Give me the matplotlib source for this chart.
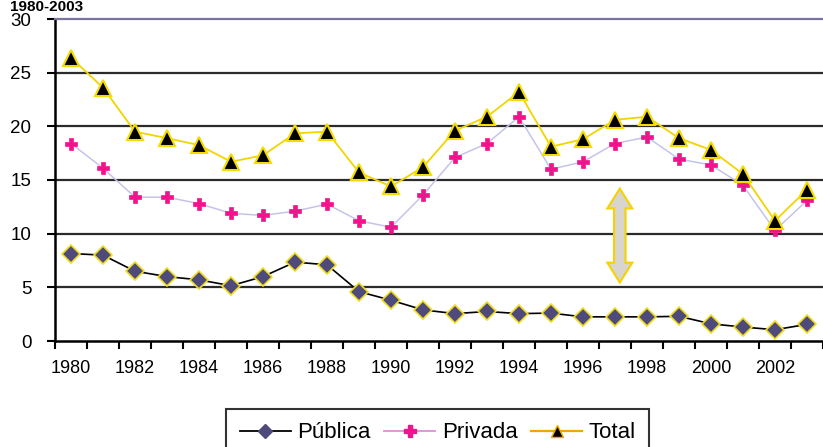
import numpy as np
import matplotlib
matplotlib.use("Agg")
import matplotlib.pyplot as plt
from matplotlib.lines import Line2D
from matplotlib.patches import Polygon

plt.rcParams['font.family'] = ['Liberation Sans', 'DejaVu Sans']

years = list(range(1980, 2004))
publica = [8.15, 8.0, 6.5, 6.0, 5.7, 5.15, 6.0, 7.35, 7.1, 4.6, 3.8,
           2.9, 2.55, 2.75, 2.55, 2.6, 2.25, 2.25, 2.25, 2.3, 1.6, 1.3, 1.05, 1.55]
privada = [18.4, 16.1, 13.4, 13.4, 12.8, 11.9, 11.7, 12.1, 12.75, 11.2, 10.6,
           13.6, 17.1, 18.4, 20.9, 16.0, 16.7, 18.4, 19.0, 16.95, 16.4, 14.5, 10.3, 13.1]
total = [26.4, 23.6, 19.5, 18.9, 18.25, 16.7, 17.3, 19.35, 19.5, 15.7, 14.4,
         16.2, 19.6, 20.9, 23.2, 18.1, 18.8, 20.6, 20.9, 18.9, 17.8, 15.55, 11.2, 14.1]
yticks = [0, 5, 10, 15, 20, 25, 30]
series_names = ['Pública', 'Privada', 'Total']
title = '1980-2003'

fig = plt.figure(figsize=(8.23, 4.47), dpi=100)
ax = fig.add_axes([55/823, 1-341/447, 768/823, (341-19)/447])

x = np.arange(len(years))

# grid lines
for v in yticks[1:-1]:
    ax.axhline(v, color='#2b2b2b', lw=1.6, zorder=1)

ax.plot(x, publica, color='black', lw=1.2, marker='D', ms=9,
        mfc='#4e4a7c', mec='#f0dc20', mew=1.2, zorder=3)
ax.plot(x, privada, color='#c4c4ea', lw=1.1, marker='P', ms=9,
        mfc='#f0148c', mec='#f0148c', mew=0.5, zorder=3)
ax.plot(x, total, color='#f2d400', lw=1.3, marker='^', ms=11,
        mfc='black', mec='#f5dc00', mew=1.5, zorder=4)

# double arrow annotation
ax_c = 17.15
top, bot = 14.2, 5.45
hl = 1.85
hw, sw = 0.39, 0.18
arrow = Polygon([(ax_c, top), (ax_c + hw, top - hl), (ax_c + sw, top - hl),
                 (ax_c + sw, bot + hl), (ax_c + hw, bot + hl), (ax_c, bot),
                 (ax_c - hw, bot + hl), (ax_c - sw, bot + hl), (ax_c - sw, top - hl),
                 (ax_c - hw, top - hl)], closed=True,
                facecolor='#d8d4ce', edgecolor='#f5d200', lw=1.5, zorder=5)
ax.add_patch(arrow)

ax.set_xlim(-0.5, len(years) - 0.5)
ax.set_ylim(0, 30)
ax.set_yticks(yticks)
ax.set_yticklabels([str(v) for v in yticks], fontsize=13.5)
ax.tick_params(axis='y', direction='out', length=6, width=1.5, pad=11)

ax.set_xticks(np.arange(-0.5, len(years), 1))
ax.set_xticklabels([])
ax.tick_params(axis='x', which='major', direction='out', length=6, width=1.5)
ax.set_xticks(x[::2], minor=True)
ax.set_xticklabels([str(y) for y in years[::2]], minor=True, fontsize=13)
ax.tick_params(axis='x', which='minor', length=0, pad=14)

ax.spines['right'].set_visible(False)
ax.spines['top'].set_color('#7a72a0')
ax.spines['top'].set_linewidth(1.6)
ax.spines['left'].set_linewidth(1.8)
ax.spines['bottom'].set_linewidth(1.8)

handles = [
    Line2D([], [], color='black', lw=1.3, marker='D', ms=7, mfc='#4e4a7c', mec='#4e4a7c'),
    Line2D([], [], color='#e28cd6', lw=1.3, marker='P', ms=8, mfc='#f0148c', mec='#f0148c'),
    Line2D([], [], color='#f0a800', lw=1.6, marker='^', ms=8, mfc='black', mec='#f0a800'),
]
leg = fig.legend(handles, series_names, loc='upper center', bbox_to_anchor=(0.532, 1-409/447),
                 ncol=3, fontsize=16, frameon=True, fancybox=False, edgecolor='black',
                 handlelength=2.3, handletextpad=0.3, columnspacing=0.6, borderpad=0.6,
                 borderaxespad=0)
leg.get_frame().set_linewidth(1.5)

fig.text(10/823, 1.0, title, fontsize=11, fontweight='bold', va='top', ha='left')

fig.savefig('out.png', dpi=100)
